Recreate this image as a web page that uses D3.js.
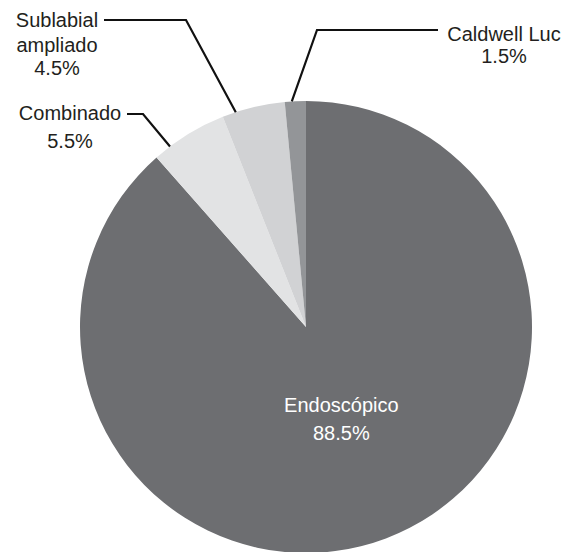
<!DOCTYPE html>
<html>
<head>
<meta charset="utf-8">
<script src="https://cdn.jsdelivr.net/npm/d3@7/dist/d3.min.js"></script>
<style>
  html, body { margin: 0; padding: 0; background: #ffffff; }
  svg { display: block; }
  text { font-family: "Liberation Sans", Arial, sans-serif; }
</style>
</head>
<body>
<svg id="chart" width="571" height="552"></svg>
<script>
// ---- data ----
const categories = ["Endoscópico", "Combinado", "Sublabial ampliado", "Caldwell Luc"];
const values = [88.5, 5.5, 4.5, 1.5];
const colors = ["#6d6e71", "#e2e3e4", "#d1d2d4", "#939598"];

// ---- layout (annotation placement, not data) ----
const W = 571, H = 552;
const cx = 306, cy = 327, R = 226;
const fontSize = 20, lineH = 25;
// per label: leader anchor angle on pie edge (deg), elbow, line end, text anchor point and lines
const labelLayout = [
  { inside: true, r: 100, lines: ["Endoscópico"], dx: 0 },
  { anchorDeg: 323, elbow: [143, 114], end: [127, 114], tx: 70, ty: 120, lines: ["Combinado"], pctGap: 28 },
  { anchorDeg: 341.9, elbow: [186, 20], end: [104, 20], tx: 57, ty: 27, lines: ["Sublabial", "ampliado"], pctGap: 23 },
  { anchorDeg: 356.4, elbow: [317, 30], end: [438, 30], tx: 504, ty: 41, lines: ["Caldwell Luc"], pctGap: 22 }
];

const svg = d3.select("#chart");
const g = svg.append("g").attr("transform", `translate(${cx},${cy})`);

const pie = d3.pie().sort(null).value(d => d.value);
const arc = d3.arc().innerRadius(0).outerRadius(R);
const data = categories.map((c, i) => ({ name: c, value: values[i], color: colors[i] }));
const arcs = pie(data);

g.selectAll("path.slice")
  .data(arcs)
  .join("path")
  .attr("class", "slice")
  .attr("d", arc)
  .attr("fill", d => d.data.color);

const fmt = d => d3.format(".1f")(d) + "%";
const textColor = "#231f20";

arcs.forEach((a, i) => {
  const L = labelLayout[i];
  if (L.inside) {
    const mid = (a.startAngle + a.endAngle) / 2;
    const x = cx + L.r * Math.sin(mid);
    const y = cy - L.r * Math.cos(mid);
    const t = svg.append("text")
      .attr("x", x).attr("y", y - 9)
      .attr("text-anchor", "middle")
      .attr("font-size", fontSize)
      .attr("fill", "#ffffff");
    t.append("tspan").attr("x", x).attr("dy", 0).text(a.data.name);
    t.append("tspan").attr("x", x).attr("dy", 28).text(fmt(a.data.value));
    return;
  }
  const ang = L.anchorDeg * Math.PI / 180;
  const p0 = [cx + R * Math.sin(ang), cy - R * Math.cos(ang)];
  svg.append("path")
    .attr("d", d3.line()([p0, L.elbow, L.end]))
    .attr("fill", "none")
    .attr("stroke", "#111111")
    .attr("stroke-width", 2.2)
    .attr("stroke-linejoin", "miter");
  const t = svg.append("text")
    .attr("text-anchor", "middle")
    .attr("font-size", fontSize)
    .attr("fill", textColor)
    .attr("x", L.tx).attr("y", L.ty);
  L.lines.forEach((ln, k) => {
    t.append("tspan").attr("x", L.tx).attr("dy", k === 0 ? 0 : lineH).text(ln);
  });
  t.append("tspan").attr("x", L.tx).attr("dy", L.pctGap).text(fmt(a.data.value));
});
</script>
</body>
</html>
